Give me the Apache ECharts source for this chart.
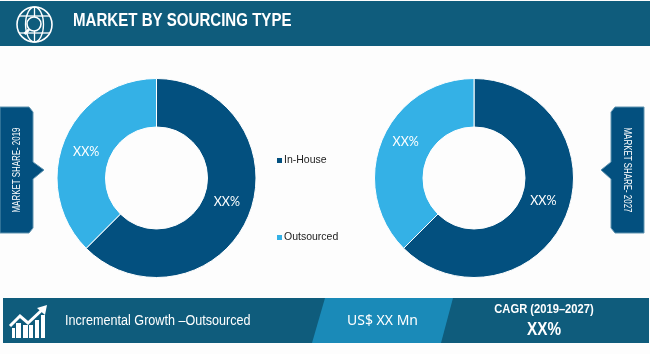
<!DOCTYPE html>
<html>
<head>
<meta charset="utf-8">
<style>
html, body { margin: 0; padding: 0; background: #fdfdfd; }
#chart { width: 650px; height: 354px; }
</style>
<script src="https://cdn.jsdelivr.net/npm/echarts@6/dist/echarts.min.js"></script>
</head>
<body>
<div id="chart"></div>
<script>
const categories = ['In-House', 'Outsourced'];
const share2019 = [62.5, 37.5];
const share2027 = [62.5, 37.5];
const valueLabel = 'XX%';

const darkBlue = '#03507f';
const lightBlue = '#34b1e6';
const bannerBlue = '#0f5c7c';
const midBlue = '#1a8ab8';
const sans = '"Liberation Sans", sans-serif';

function makePie(center, values, offsets) {
    return {
        type: 'pie',
        center: center,
        radius: [51, 99.5],
        startAngle: 90,
        clockwise: true,
        silent: true,
        label: {
            position: 'inside',
            formatter: valueLabel,
            color: '#ffffff',
            fontSize: 12.5,
            fontFamily: 'Lato'
        },
        labelLine: { show: false },
        itemStyle: { borderColor: '#ffffff', borderWidth: 1 },
        data: [
            { name: categories[0], value: values[0], itemStyle: { color: darkBlue }, label: { offset: offsets[0] } },
            { name: categories[1], value: values[1], itemStyle: { color: lightBlue }, label: { offset: offsets[1] } }
        ]
    };
}

// no condensed face is installed, so the text is squeezed sideways
function bannerText(text, x, y, size, weight, squeeze, align) {
    return {
        type: 'text',
        x: x,
        y: y,
        scaleX: squeeze,
        style: {
            text: text,
            fill: '#ffffff',
            font: weight + ' ' + size + 'px ' + sans,
            textAlign: align || 'left',
            textVerticalAlign: 'middle'
        }
    };
}

function sideTag(points, textX, text, rotation) {
    return [
        {
            type: 'polygon',
            shape: { points: points },
            style: { fill: darkBlue, stroke: '#5f93b0', lineWidth: 1 }
        },
        {
            type: 'text',
            x: textX,
            y: 170,
            rotation: rotation,
            scaleX: 0.72,
            style: {
                text: text,
                fill: '#ffffff',
                font: '11px ' + sans,
                textAlign: 'center',
                textVerticalAlign: 'middle'
            }
        }
    ];
}

const line = (x1, y1, x2, y2, width) => ({
    type: 'line',
    shape: { x1: x1, y1: y1, x2: x2, y2: y2 },
    style: { stroke: '#ffffff', lineWidth: width || 1.5 }
});

const bar = (x, top, width) => ({
    type: 'rect',
    shape: { x: x, y: top, width: width, height: 338 - top },
    style: { fill: '#ffffff' }
});

// globe and magnifier in the header
const globeIcon = [
    { type: 'ellipse', shape: { cx: 34.5, cy: 24.5, rx: 17.5, ry: 17.5 }, style: { fill: 'none', stroke: '#fff', lineWidth: 1.6 } },
    { type: 'ellipse', shape: { cx: 34.5, cy: 24.5, rx: 9, ry: 17.5 }, style: { fill: 'none', stroke: '#fff', lineWidth: 1.3 } },
    line(34.5, 7, 34.5, 42, 1.3),
    line(19, 16, 50, 16, 1.3),
    line(19, 33, 50, 33, 1.3),
    { type: 'circle', shape: { cx: 34, cy: 24, r: 7 }, style: { fill: bannerBlue, stroke: '#fff', lineWidth: 1.6 } },
    line(29, 29.5, 24.5, 34, 2.6)
];

// rising bars and arrow in the footer
const growthIcon = [
    bar(12, 328, 3),
    bar(16, 323, 5),
    bar(23, 325, 5),
    bar(29, 325, 4),
    bar(35, 320, 4),
    bar(41, 315, 4),
    {
        type: 'polyline',
        shape: { points: [[10, 326], [20, 316], [28, 323], [43, 309]] },
        style: { fill: 'none', stroke: '#fff', lineWidth: 3 }
    },
    { type: 'polygon', shape: { points: [[37, 308], [47, 305], [45, 315]] }, style: { fill: '#fff' } }
];

const graphics = [
    { type: 'rect', shape: { x: 0, y: 1, width: 650, height: 45 }, style: { fill: bannerBlue } },
    bannerText('MARKET BY SOURCING TYPE', 73, 20.5, 19, 'bold', 0.793),
    { type: 'rect', shape: { x: 3, y: 298, width: 646, height: 45 }, style: { fill: bannerBlue } },
    { type: 'polygon', shape: { points: [[325, 298], [453, 298], [441, 343], [312, 343]] }, style: { fill: midBlue } },
    bannerText('Incremental Growth \u2013Outsourced', 65, 321.5, 14, 'normal', 0.9),
    {
        type: 'text', x: 382.5, y: 321,
        style: { text: 'US$ XX Mn', fill: '#fff', font: '14px "Noto Sans", sans-serif', textAlign: 'center', textVerticalAlign: 'middle' }
    },
    bannerText('CAGR (2019\u20132027)', 544, 309, 13, 'bold', 0.86, 'center'),
    bannerText('XX%', 544, 330, 18, 'bold', 0.85, 'center'),
    ...sideTag([[0, 107], [29, 107], [33, 112], [33, 162], [44, 170], [33, 179], [33, 228], [29, 233], [0, 233]], 17, 'MARKET SHARE- 2019', Math.PI / 2),
    ...sideTag([[644, 107], [615, 107], [611, 112], [611, 162], [601, 170], [611, 179], [611, 228], [615, 233], [644, 233]], 627, 'MARKET SHARE- 2027', -Math.PI / 2),
    ...globeIcon,
    ...growthIcon
];

const chart = echarts.init(document.getElementById('chart'), null, { renderer: 'canvas' });
chart.setOption({
    animation: false,
    backgroundColor: '#fdfdfd',
    legend: {
        orient: 'vertical',
        left: 277,
        top: 155,
        padding: 0,
        itemWidth: 5,
        itemHeight: 5,
        itemGap: 66,
        icon: 'rect',
        selectedMode: false,
        data: categories,
        itemStyle: { borderWidth: 0 },
        textStyle: { color: '#222222', fontSize: 10.5, fontFamily: 'Liberation Sans', padding: [0, 0, 0, -3] }
    },
    series: [
        makePie([156.5, 178], share2019, [[-2, -6], [2, 4]]),
        makePie([474, 178], share2027, [[-3, -7], [4, -6]])
    ],
    graphic: { elements: graphics }
});
</script>
</body>
</html>
